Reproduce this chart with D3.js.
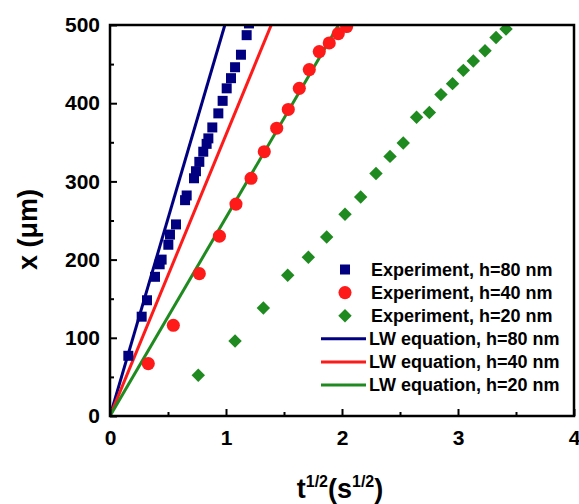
<!DOCTYPE html>
<html>
<head>
<meta charset="utf-8">
<script src="https://cdn.jsdelivr.net/npm/d3@7"></script>
<style>
  html, body { margin: 0; padding: 0; background: #fff; }
  svg { display: block; }
  text { font-family: "Liberation Sans", Arial, sans-serif; font-weight: bold; fill: #000; }
</style>
</head>
<body>
<svg id="chart" width="579" height="504"></svg>
<script>
// ---- data ----
const xTicks = [0, 1, 2, 3, 4];
const yTicks = [0, 100, 200, 300, 400, 500];
const xMinor = [0.5, 1.5, 2.5, 3.5];
const yMinor = [50, 150, 250, 350, 450];

const exp80T = [0.158, 0.273, 0.319, 0.388, 0.428, 0.445, 0.503, 0.517, 0.569, 0.647, 0.661, 0.724, 0.741, 0.770, 0.804, 0.833, 0.848, 0.882, 0.934, 0.971, 1.006, 1.043, 1.078, 1.129, 1.178, 1.198];
const exp80X = [77, 127, 148, 178, 194, 200, 219, 232, 245, 276, 282, 304, 313, 325, 338, 348, 355, 369, 387, 403, 419, 432, 446, 462, 487, 502];

const exp40T = [0.330, 0.546, 0.770, 0.943, 1.086, 1.216, 1.330, 1.437, 1.537, 1.632, 1.718, 1.804, 1.890, 1.968, 2.040];
const exp40X = [67, 116, 182, 230, 271, 304, 338, 368, 392, 419, 443, 466, 477, 489, 498];

const exp20T = [0.761, 1.078, 1.322, 1.532, 1.710, 1.868, 2.026, 2.161, 2.293, 2.414, 2.528, 2.643, 2.753, 2.853, 2.953, 3.046, 3.132, 3.233, 3.328, 3.414];
const exp20X = [52, 96, 138, 180, 203, 229, 258, 280, 310, 332, 349, 382, 388, 411, 425, 442, 454, 467, 484, 495];

// LW equation lines (t, x) end points through origin
const lw80T = [0, 0.99];  const lw80X = [0, 500];
const lw40T = [0, 1.39];  const lw40X = [0, 500];
const lw20T = [0, 1.97];  const lw20X = [0, 500];

const legendLabels = ["Experiment, h=80 nm", "Experiment, h=40 nm", "Experiment, h=20 nm",
                      "LW equation, h=80 nm", "LW equation, h=40 nm", "LW equation, h=20 nm"];

const BLUE = "#000080", RED = "#ff1a1a", GREEN = "#1f8a1f";

// ---- layout ----
const svg = d3.select("#chart");
const L = 110, R = 574, T = 25, B = 416;
const x = d3.scaleLinear().domain([0, 4]).range([L, R]);
const y = d3.scaleLinear().domain([0, 500]).range([B, T]);

svg.append("defs").append("clipPath").attr("id", "clip")
  .append("rect").attr("x", L).attr("y", T).attr("width", R - L).attr("height", B - T);

const plot = svg.append("g").attr("clip-path", "url(#clip)");

// lines
const lineGen = d3.line().x(d => x(d[0])).y(d => y(d[1]));
[[lw80T, lw80X, BLUE], [lw40T, lw40X, RED], [lw20T, lw20X, GREEN]].forEach(([ts, xs, c]) => {
  plot.append("path").datum(ts.map((t, i) => [t, xs[i]]))
    .attr("d", lineGen).attr("fill", "none").attr("stroke", c).attr("stroke-width", 3);
});

// markers
const sq = d3.symbol().type(d3.symbolSquare).size(100);
const ci = d3.symbol().type(d3.symbolCircle).size(135);
const di = d3.symbol().type(d3.symbolDiamond2).size(115);

function drawPts(ts, xs, sym, c) {
  plot.append("g").selectAll("path").data(ts.map((t, i) => [t, xs[i]])).join("path")
    .attr("transform", d => `translate(${x(d[0])},${y(d[1])})`)
    .attr("d", sym).attr("fill", c);
}
drawPts(exp20T, exp20X, di, GREEN);
drawPts(exp40T, exp40X, ci, RED);
drawPts(exp80T, exp80X, sq, BLUE);

// axes (ticks inward)
const xAxis = svg.append("g").attr("transform", `translate(0,${B})`)
  .call(d3.axisBottom(x).tickValues(xTicks).tickFormat(d3.format("d")).tickSizeInner(-7).tickSizeOuter(0).tickPadding(14));
const xAxisMinor = svg.append("g").attr("transform", `translate(0,${B})`)
  .call(d3.axisBottom(x).tickValues(xMinor).tickFormat("").tickSizeInner(-4).tickSizeOuter(0));
const yAxis = svg.append("g").attr("transform", `translate(${L},0)`)
  .call(d3.axisLeft(y).tickValues(yTicks).tickFormat(d3.format("d")).tickSizeInner(-7).tickSizeOuter(0).tickPadding(10));
const yAxisMinor = svg.append("g").attr("transform", `translate(${L},0)`)
  .call(d3.axisLeft(y).tickValues(yMinor).tickFormat("").tickSizeInner(-4).tickSizeOuter(0));

[xAxis, xAxisMinor, yAxis, yAxisMinor].forEach(g => {
  g.select(".domain").remove();
  g.selectAll(".tick line").attr("stroke", "#000").attr("stroke-width", 2);
  g.selectAll(".tick text").style("font-size", "21px").style("font-family", "'Liberation Sans', Arial, sans-serif").style("font-weight", "bold").attr("fill", "#000");
});

// frame
svg.append("rect").attr("x", L).attr("y", T).attr("width", R - L).attr("height", B - T)
  .attr("fill", "none").attr("stroke", "#000").attr("stroke-width", 2.5);

// axis titles
const xt = svg.append("text").attr("x", (L + R) / 2 - 2).attr("y", 498).attr("text-anchor", "middle").style("font-size", "27px");
xt.append("tspan").text("t");
xt.append("tspan").attr("dy", -11).style("font-size", "16px").text("1/2");
xt.append("tspan").attr("dy", 11).text("(s");
xt.append("tspan").attr("dy", -11).style("font-size", "16px").text("1/2");
xt.append("tspan").attr("dy", 11).text(")");

svg.append("text").attr("transform", `translate(37,${(T + B) / 2 + 9}) rotate(-90)`)
  .attr("text-anchor", "middle").style("font-size", "27px").text("x (μm)");

// legend
const legY0 = 269.5, legDY = 23.1;
const lg = svg.append("g");
const legSyms = [[sq, BLUE], [ci, RED], [di, GREEN]];
legSyms.forEach(([s, c], i) => {
  lg.append("path").attr("transform", `translate(345,${legY0 + i * legDY})`).attr("d", s).attr("fill", c);
});
[BLUE, RED, GREEN].forEach((c, i) => {
  const yy = legY0 + (i + 3) * legDY;
  lg.append("line").attr("x1", 321).attr("x2", 366).attr("y1", yy).attr("y2", yy)
    .attr("stroke", c).attr("stroke-width", 3);
});
legendLabels.forEach((t, i) => {
  lg.append("text").attr("x", i < 3 ? 371 : 369).attr("y", legY0 + i * legDY).attr("dy", "0.36em")
    .style("font-size", "18px").text(t);
});
</script>
</body>
</html>
